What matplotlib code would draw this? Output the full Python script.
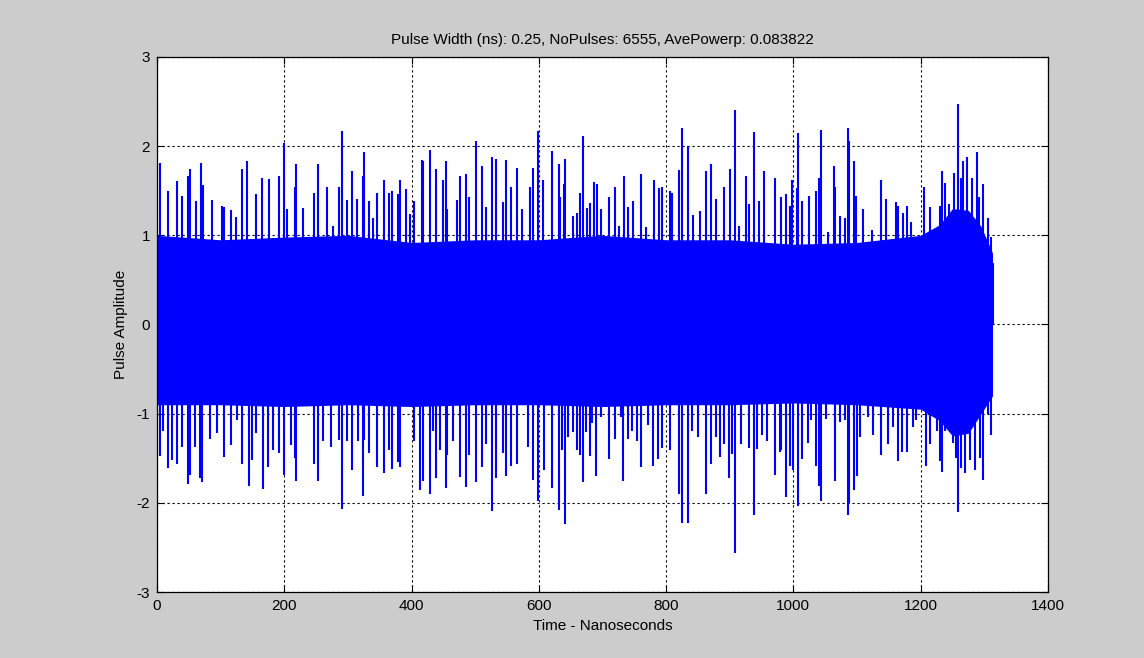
import numpy as np
import matplotlib
matplotlib.use('Agg')
from matplotlib import pyplot as plt

plt.rcParams['font.family'] = ['Liberation Sans', 'DejaVu Sans']
plt.rcParams['axes.unicode_minus'] = False

# Upward spikes: time (ns) and peak amplitude.
up_t = [5, 18, 32, 40, 49, 52, 62, 69, 72, 86, 102, 105, 116, 124, 133, 142, 156, 165, 176, 192,
        200, 205, 217, 219, 230, 247, 253, 267, 277, 286, 291, 298, 306, 314,
        323, 325, 333, 340, 345, 357, 365, 370, 378, 382, 391, 397, 404, 417, 418, 429, 439, 449,
        454, 456, 471, 476, 485, 491, 501, 510, 517, 526, 532, 543, 548, 557, 565, 574, 586, 591,
        599, 607, 621, 631, 634, 639, 641,
        653, 660, 665, 670, 676, 681, 687, 692, 697, 710, 719, 726, 734, 740, 748, 761, 768, 781,
        789, 793, 806, 810, 820, 825, 835, 842, 854, 862, 870, 878, 891, 900, 909, 915, 926, 931,
        938, 946, 954, 971,
        981, 988, 994, 998, 1005, 1007, 1013, 1025, 1035, 1040, 1044, 1054, 1064, 1066, 1073, 1081,
        1086, 1088, 1096, 1099, 1109, 1123, 1137, 1146, 1162, 1164, 1172, 1179, 1185, 1193, 1206,
        1214, 1222, 1230, 1234, 1238, 1244, 1253, 1259, 1264, 1266, 1273, 1281, 1288, 1291, 1298,
        1306, 1311, 1313]
up_v = [1.81, 1.5, 1.61, 1.44, 1.66, 1.74, 1.38, 1.81, 1.56, 1.4, 1.33, 1.32, 1.28, 1.2, 1.74, 1.83,
        1.46, 1.64, 1.63, 1.66, 2.04, 1.3, 1.54, 1.8, 1.31, 1.48, 1.8, 1.54, 1.1, 1.54, 2.17, 1.4,
        1.72, 1.41,
        1.67, 1.93, 1.38, 1.19, 1.48, 1.62, 1.48, 1.5, 1.46, 1.62, 1.52, 1.24, 1.38, 1.85, 1.83, 1.96,
        1.74, 1.62, 1.83, 1.3, 1.4, 1.66, 1.69, 1.43, 2.06, 1.78, 1.32, 1.88, 1.86, 1.37, 1.84, 1.54,
        1.75, 1.29, 1.54, 1.76, 2.17, 1.62, 1.95, 1.8, 1.43, 1.58, 1.86,
        1.22, 1.25, 1.48, 2.11, 1.31, 1.36, 1.6, 1.57, 1.3, 1.43, 1.54, 1.11, 1.67, 1.32, 1.39, 1.69,
        1.09, 1.62, 1.53, 1.54, 1.5, 1.48, 1.73, 2.2, 2.0, 1.23, 1.27, 1.72, 1.8, 1.41, 1.54, 1.74,
        2.41, 1.11, 1.67, 1.35, 2.16, 1.39, 1.72, 1.64,
        1.43, 1.46, 1.33, 1.62, 1.53, 2.15, 1.38, 1.44, 1.5, 1.64, 2.18, 1.04, 1.78, 1.54, 1.22, 1.19,
        2.2, 2.06, 1.83, 1.44, 1.3, 1.06, 1.62, 1.41, 1.37, 1.33, 1.25, 1.33, 1.15, 0.94, 1.54, 1.32,
        0.94, 1.33, 1.72, 1.59, 1.35, 1.7, 2.47, 1.64, 1.83, 1.88, 1.64, 1.93, 1.43, 1.58, 1.19, 0.98,
        0.69]

# Downward spikes.
lo_t = [5, 9, 18, 23, 32, 40, 49, 52, 60, 68, 71, 83, 94, 105, 116, 126, 133, 144, 149, 156, 166,
        175, 183, 192, 200, 210, 217, 219, 246, 253, 261, 274, 286, 291, 298, 306, 316, 323,
        325, 333, 345, 357, 365, 370, 378, 382, 404, 414, 418, 429, 433, 439, 445, 454, 456, 465,
        476, 485, 491, 501, 510, 517, 526, 532, 543, 548, 557, 565, 583, 591, 599, 608, 621, 631,
        636, 641, 646,
        653, 660, 665, 670, 674, 681, 684, 690, 697, 710, 719, 729, 733, 740, 746, 754, 761, 772,
        780, 787, 793, 806, 820, 825, 835, 841, 850, 862, 870, 878, 884, 891, 899, 903, 909, 917,
        931, 938, 943, 951, 958, 971, 979,
        981, 988, 994, 999, 1007, 1013, 1023, 1028, 1035, 1040, 1044, 1052, 1065, 1066, 1073, 1081,
        1086, 1088, 1096, 1100, 1104, 1117, 1125, 1138, 1149, 1157, 1165, 1170, 1179, 1188, 1193,
        1208, 1214, 1225, 1230, 1234, 1239, 1251, 1256, 1259, 1264, 1269, 1277, 1285, 1293, 1298,
        1306, 1311]
lo_v = [-1.47, -1.2, -1.61, -1.52, -1.57, -1.37, -1.79, -1.69, -1.37, -1.72, -1.77, -1.28, -1.22,
        -1.49, -1.35, -1.07, -1.57, -1.81, -1.52, -1.22, -1.84, -1.6, -1.41, -1.44, -1.69, -1.35,
        -1.5, -1.76, -1.57, -1.76, -1.31, -1.37, -1.3, -2.07, -1.31, -1.63, -1.31, -1.92,
        -1.3, -1.44, -1.6, -1.67, -1.41, -1.62, -1.54, -1.6, -1.31, -1.86, -1.76, -1.9, -1.19, -1.72,
        -1.41, -1.83, -1.46, -1.31, -1.71, -1.82, -1.46, -1.77, -1.6, -1.34, -2.09, -1.72, -1.44,
        -1.7, -1.59, -1.56, -1.37, -1.74, -1.98, -1.63, -1.83, -2.08, -1.41, -2.24, -1.26,
        -1.21, -1.41, -1.46, -1.77, -1.21, -1.47, -1.11, -1.7, -1.04, -1.51, -1.28, -1.04, -1.76,
        -1.28, -1.2, -1.31, -1.6, -1.13, -1.59, -1.51, -1.38, -1.41, -1.9, -2.23, -2.23, -1.19,
        -1.26, -1.9, -1.56, -1.26, -1.49, -1.34, -1.72, -1.45, -2.56, -1.34, -1.38, -2.14, -1.4,
        -1.24, -1.31, -1.69, -1.43,
        -1.41, -1.94, -1.59, -1.63, -2.04, -1.51, -1.33, -1.07, -1.59, -1.81, -1.98, -1.06, -1.76,
        -1.63, -1.09, -1.07, -2.14, -2.0, -1.86, -1.7, -1.26, -1.04, -1.24, -1.46, -1.34, -1.15,
        -1.53, -1.43, -1.43, -1.15, -1.07, -1.59, -1.34, -1.2, -1.53, -1.65, -1.19, -1.33, -1.5,
        -2.1, -1.61, -1.67, -1.52, -1.63, -1.5, -1.74, -1.0, -1.24]

# Edges of the solid blue core.
core_t = [0, 100, 200, 300, 400, 500, 600, 700, 800, 900, 1000, 1100, 1200, 1230, 1250, 1275,
          1295, 1313]
core_hi = [1.0, 0.95, 0.98, 1.0, 0.92, 0.95, 0.95, 1.0, 0.95, 0.95, 0.9, 0.92, 1.0, 1.12, 1.3,
           1.28, 1.1, 0.8]
core_lo = [-0.9, -0.9, -0.92, -0.9, -0.92, -0.9, -0.9, -0.92, -0.9, -0.9, -0.88, -0.9, -0.95,
           -1.08, -1.25, -1.22, -1.0, -0.8]

title = 'Pulse Width (ns): 0.25, NoPulses: 6555, AvePowerp: 0.083822'
x_ticks = [0, 200, 400, 600, 800, 1000, 1200, 1400]
y_ticks = [-3, -2, -1, 0, 1, 2, 3]

fig = plt.figure(figsize=(11.44, 6.58), dpi=100)
fig.patch.set_facecolor('#cccccc')
ax = fig.add_axes([0.1372, 0.1003, 0.7788, 0.8131])
ax.set_facecolor('white')

blue = (0, 0, 1)
ax.fill_between(core_t, core_lo, core_hi, color=blue, lw=0, zorder=2)
ax.vlines(up_t, 0, up_v, color=blue, lw=1.5, zorder=2)
ax.vlines(lo_t, lo_v, 0, color=blue, lw=1.5, zorder=2)

ax.set_xlim(0, 1400)
ax.set_ylim(-3, 3)
ax.set_xticks(x_ticks)
ax.set_yticks(y_ticks)
ax.tick_params(direction='in', length=5, width=0.8, labelsize=11, colors='black',
               top=True, right=True, pad=5)
ax.grid(True, color='black', linestyle=(0, (2, 2.5)), linewidth=0.8)
ax.set_axisbelow(True)
for s in ax.spines.values():
    s.set_linewidth(0.9)
    s.set_zorder(5)

ax.set_title(title, fontsize=11, pad=9)
ax.set_xlabel('Time - Nanoseconds', fontsize=11, labelpad=4)
ax.set_ylabel('Pulse Amplitude', fontsize=11, labelpad=6)

fig.savefig('out.png', dpi=100, facecolor=fig.get_facecolor())
